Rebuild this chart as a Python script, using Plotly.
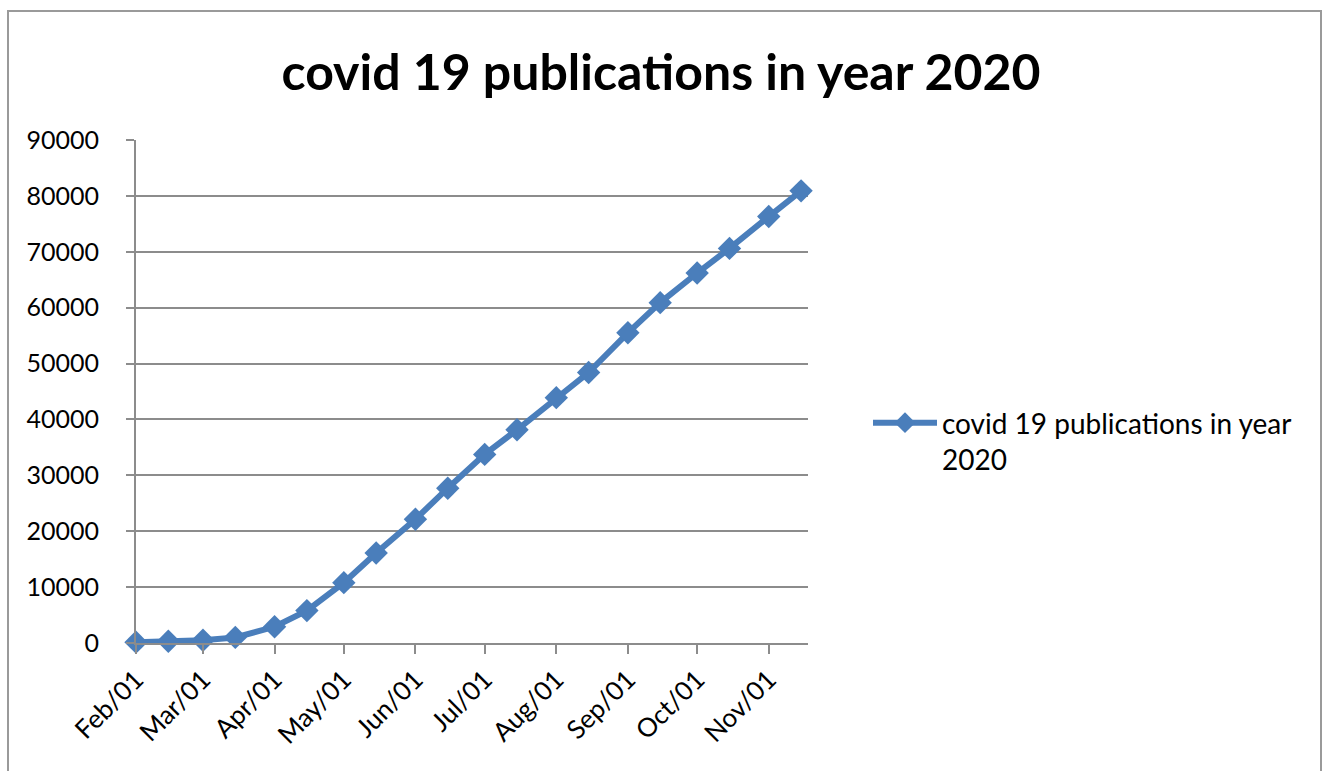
import plotly.graph_objects as go

# Semi-monthly observation dates (2020) and cumulative publication counts
dates = [
    "2020-02-01", "2020-02-15", "2020-03-01", "2020-03-15", "2020-04-01",
    "2020-04-15", "2020-05-01", "2020-05-15", "2020-06-01", "2020-06-15",
    "2020-07-01", "2020-07-15", "2020-08-01", "2020-08-15", "2020-09-01",
    "2020-09-15", "2020-10-01", "2020-10-15", "2020-11-01", "2020-11-15",
]
publications = [
    150, 300, 500, 1000, 2900,
    5800, 10800, 16100, 22150, 27700,
    33750, 38150, 43900, 48400, 55500,
    60900, 66200, 70600, 76300, 80900,
]
series_name = "covid 19 publications in year<br>2020"
chart_title = "covid 19 publications in year 2020"
y_ticks = list(range(0, 90001, 10000))

BLUE = "#4A7EBB"
GRID = "#8C8C8C"
FONT = "Lato"

fig = go.Figure(
    go.Scatter(
        x=dates,
        y=publications,
        name=series_name,
        mode="lines+markers",
        line=dict(color=BLUE, width=6),
        marker=dict(symbol="diamond", size=18, color=BLUE),
        cliponaxis=False,
        showlegend=True,
    )
)

W, H = 1322, 771
ml, mr, mt, mb = 136, 514, 140, 128
pw, ph = W - ml - mr, H - mt - mb


def px_x(px):
    return (px - ml) / pw


def px_y(py):
    return (H - mb - py) / ph


fig.update_layout(
    width=W,
    height=H,
    margin=dict(l=ml, r=mr, t=mt, b=mb),
    paper_bgcolor="white",
    plot_bgcolor="white",
    font=dict(family=FONT, size=24, color="black"),
    title=dict(
        text=chart_title,
        font=dict(family=FONT, size=50, color="black", weight="bold"),
        x=0.5,
        xref="container",
        xanchor="center",
        y=1 - 72 / H,
        yref="container",
        yanchor="middle",
    ),
    xaxis=dict(
        type="date",
        range=["2020-02-01", "2020-11-18"],
        tick0="2020-02-01",
        dtick="M1",
        tickformat="%b/%d",
        tickangle=-45,
        ticks="outside",
        ticklen=9,
        tickwidth=2,
        tickcolor=GRID,
        showline=True,
        linecolor=GRID,
        linewidth=2,
        showgrid=False,
        zeroline=False,
        tickfont=dict(family=FONT, size=26, color="black"),
    ),
    yaxis=dict(
        range=[0, 90000],
        tickvals=y_ticks,
        ticktext=[str(v) for v in y_ticks],
        ticks="outside",
        ticklen=8,
        tickwidth=2,
        tickcolor=GRID,
        ticklabelstandoff=22,
        showline=True,
        linecolor=GRID,
        linewidth=2,
        showgrid=True,
        gridcolor=GRID,
        gridwidth=2,
        zeroline=False,
        tickfont=dict(family=FONT, size=25, color="black"),
    ),
    legend=dict(
        x=px_x(868),
        y=px_y(398),
        xanchor="left",
        yanchor="top",
        valign="top",
        itemwidth=64,
        bgcolor="rgba(0,0,0,0)",
        font=dict(family=FONT, size=28, color="black"),
    ),
    shapes=[
        dict(
            type="rect",
            xref="paper",
            yref="paper",
            x0=px_x(8),
            x1=px_x(1321),
            y0=px_y(800),
            y1=px_y(11),
            line=dict(color="#9A9A9A", width=2),
            fillcolor="rgba(0,0,0,0)",
            layer="below",
        )
    ],
)

fig.write_html("out.html")
